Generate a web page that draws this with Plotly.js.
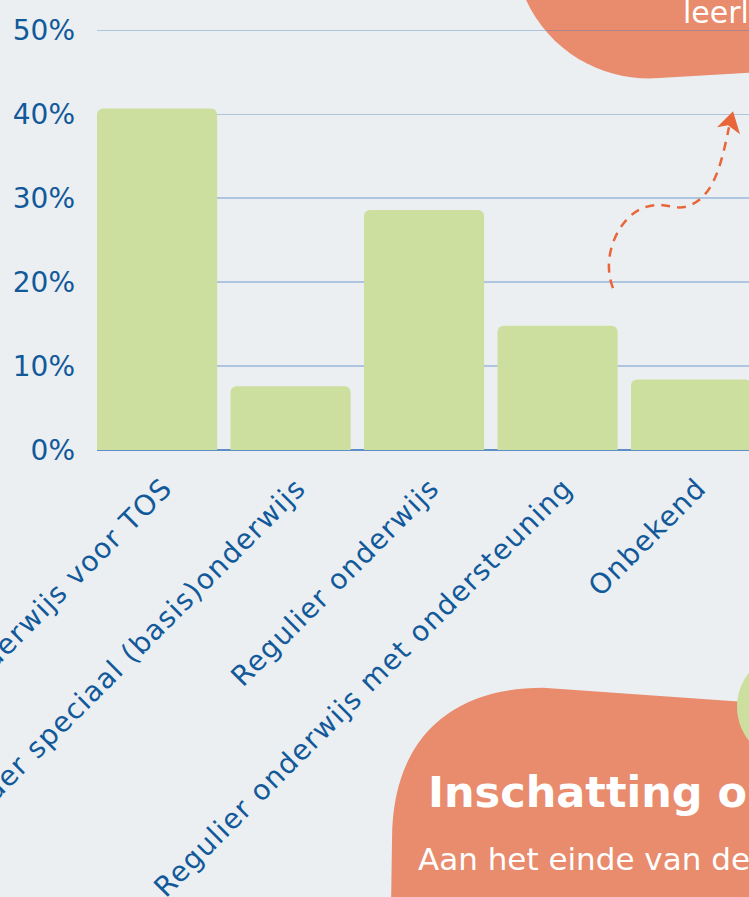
<!DOCTYPE html>
<html>
<head>
<meta charset="utf-8">
<script src="https://cdn.plot.ly/plotly-3.0.1.min.js"></script>
<style>
  html, body { margin: 0; padding: 0; background: #ebeff2; overflow: hidden; }
  #chart { width: 749px; height: 897px; }
  .xtick text { letter-spacing: 1.2px; }
</style>
</head>
<body>
<div id="chart"></div>
<script>
// ---- data ----
const categories = [
  "Speciaal onderwijs voor TOS",
  "Ander speciaal (basis)onderwijs",
  "Regulier onderwijs",
  "Regulier onderwijs met ondersteuning",
  "Onbekend"
];
const shares = [40.7, 7.6, 28.6, 14.8, 8.4];
const yTickValues = [0, 10, 20, 30, 40, 50];
const yTickLabels = ["0%", "10%", "20%", "30%", "40%", "50%"];
const titleText = "Inschatting onderwijsniveau";
const introText = "Aan het einde van de basisschool";
const topText = "leerlingen";

// ---- layout helpers (pixel -> paper) ----
const yMax = 51;
const L = 97, W = 652, H = 8.4 * yMax, T = 450 - H;
const px = x => (x - L) / W;
const py = y => (T + H - y) / H;
function path(cmds) {
  return cmds.map(c => {
    const [op, ...pts] = c;
    let s = op;
    for (let i = 0; i < pts.length; i += 2) s += " " + px(pts[i]).toFixed(4) + " " + py(pts[i + 1]).toFixed(4);
    return s;
  }).join(" ");
}

const blue = "#12599a";
const orange = "#e98b6d";
const green = "#cddf9e";
const arrow = "#e8663a";

const trace = {
  type: "bar",
  x: categories,
  y: shares,
  marker: { color: green, cornerradius: 6 },
  hoverinfo: "skip"
};

const shapes = [
  { type: "path", xref: "paper", yref: "paper", layer: "below", line: { width: 0 }, fillcolor: orange,
    path: path([["M", 522, -10], ["C", 545, 50, 600, 80, 655, 78], ["L", 770, 71], ["L", 770, -10], ["Z"]]) },
  { type: "path", xref: "paper", yref: "paper", layer: "above", line: { width: 0 }, fillcolor: orange,
    path: path([["M", 391, 910], ["L", 392, 840], ["C", 392, 740, 450, 688, 543, 688], ["L", 770, 704], ["L", 770, 910], ["Z"]]) },
  { type: "circle", xref: "paper", yref: "paper", layer: "above", line: { width: 0 }, fillcolor: green,
    x0: px(737), x1: px(847), y0: py(762), y1: py(652) },
  { type: "path", xref: "paper", yref: "paper", layer: "above", line: { color: arrow, width: 2.5, dash: "9px,7px" },
    path: path([["M", 613, 288], ["C", 600, 255, 620, 215, 645, 207], ["C", 665, 200, 675, 212, 690, 205], ["C", 715, 195, 722, 160, 729, 127]]) },
  { type: "path", xref: "paper", yref: "paper", layer: "above", line: { width: 0 }, fillcolor: arrow,
    path: path([["M", 733, 111], ["L", 717, 127], ["L", 728, 125], ["L", 740, 134], ["Z"]]) }
];

const annotations = [
  { text: "<b>" + titleText + "</b>", xref: "paper", yref: "paper", x: px(426), y: py(792),
    xanchor: "left", yanchor: "middle", showarrow: false,
    font: { family: "DejaVu Sans", size: 43, color: "#ffffff" } },
  { text: introText, xref: "paper", yref: "paper", x: px(416), y: py(859),
    xanchor: "left", yanchor: "middle", showarrow: false,
    font: { family: "DejaVu Sans", size: 31, color: "#ffffff" } },
  { text: topText, xref: "paper", yref: "paper", x: px(681), y: py(12),
    xanchor: "left", yanchor: "middle", showarrow: false,
    font: { family: "DejaVu Sans", size: 30, color: "#ffffff" } }
];

const layout = {
  width: 749, height: 897,
  margin: { l: L, r: 749 - L - W, t: T, b: 897 - T - H, pad: 0 },
  paper_bgcolor: "#ebeff2",
  plot_bgcolor: "rgba(0,0,0,0)",
  showlegend: false,
  bargap: 0.1,
  font: { family: "DejaVu Sans", color: blue },
  xaxis: {
    type: "category",
    range: [-0.45, -0.45 + W / 133.5],
    tickangle: -45,
    tickfont: { family: "DejaVu Sans", size: 28, color: blue },
    ticks: "", showgrid: false, showline: false, zeroline: false,
    automargin: false, ticklabelstandoff: 15, ticklabelshift: 7
  },
  yaxis: {
    range: [0, yMax],
    tickvals: yTickValues, ticktext: yTickLabels,
    tickfont: { family: "DejaVu Sans", size: 28, color: blue },
    gridcolor: "rgba(60,120,190,0.35)", gridwidth: 1.5,
    zeroline: true, zerolinecolor: "#5d8fc6", zerolinewidth: 2,
    showline: false, ticks: "", automargin: false, ticklabelstandoff: 21
  },
  shapes: shapes,
  annotations: annotations
};

Plotly.newPlot("chart", [trace], layout, { displayModeBar: false, staticPlot: true });
</script>
</body>
</html>
